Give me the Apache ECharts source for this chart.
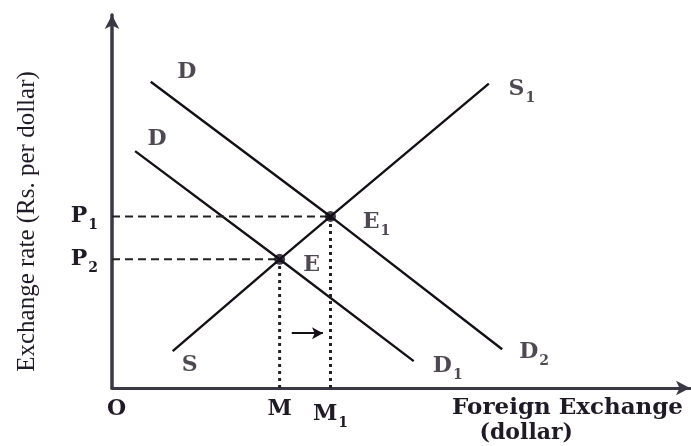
<!DOCTYPE html>
<html>
<head>
<meta charset="utf-8">
<title>Foreign exchange market: shift in demand</title>
<script src="https://cdn.jsdelivr.net/npm/echarts@6/dist/echarts.min.js"></script>
<style>
  html, body { margin: 0; padding: 0; background: #fff; }
  #chart { width: 691px; height: 446px; }
</style>
</head>
<body>
<div id="chart"></div>
<script>
// Curves in axis units (quantity 0–100, rate 0–100)
const supplyS = [[10.5, 9.9], [29, 34.5], [37.8, 46], [65.2, 81.6]];
const demandD1 = [[4.0, 63.5], [29, 34.5], [52.2, 7.2]];
const demandD2 = [[6.7, 82.1], [37.8, 46], [67.5, 10.4]];

// Equilibrium points E and E1
const equilibriumNames = ['E', 'E1'];
const equilibriumPoints = [[29, 34.5], [37.8, 46]];

// Tick positions and their labels
const rateTicks = [34.5, 46];
const rateTickLabels = ['P2', 'P1'];
const qtyTicks = [0, 29, 37.8];
const qtyTickLabels = ['O', 'M', 'M1'];

// Shift arrow between M and M1
const shiftArrow = [[31.1, 14.7], [36.5, 14.7]];

const SERIF = 'DejaVu Serif';
const TITLE_SERIF = 'Liberation Serif';
const INK = '#201a26';

// "M1" -> "{m|M}{s|1}"
function sub(txt) {
  const m = txt.match(/^([A-Za-z]+)(\d*)$/);
  return m[2] ? '{m|' + m[1] + '}{s|' + m[2] + '}' : '{m|' + m[1] + '}';
}
const richText = {
  m: { fontFamily: SERIF, fontSize: 22, fontWeight: 'bold', color: INK },
  o: { fontFamily: SERIF, fontSize: 22, fontWeight: 'bold', color: INK, padding: [0, 0, 0, 9] },
  s: { fontFamily: SERIF, fontSize: 14, fontWeight: 'bold', color: INK, padding: [18, 0, 0, 1] }
};

function curveLabel(point, text, dx, dy) {
  return {
    value: point,
    label: { show: true, formatter: sub(text), position: 'inside', offset: [dx, dy], rich: richText }
  };
}

const chart = echarts.init(document.getElementById('chart'), null, { renderer: 'canvas' });

const lineStyle = { color: '#151018', width: 2.4 };

chart.setOption({
  backgroundColor: '#ffffff',
  animation: false,
  grid: { left: 112, right: 1, top: 15, bottom: 56, containLabel: false },
  xAxis: {
    type: 'value', min: 0, max: 100,
    splitLine: { show: false },
    axisTick: { show: false },
    axisLine: { show: true, lineStyle: { color: '#3a3844', width: 3 }, symbol: ['none', 'arrow'], symbolSize: [11, 14] },
    axisLabel: {
      show: true, customValues: qtyTicks, margin: 10,
      // the origin label sits just right of the corner
      formatter: v => v === 0 ? '{o|' + qtyTickLabels[0] + '}' : sub(qtyTickLabels[qtyTicks.indexOf(v)]),
      rich: richText
    },
    name: '{a|Foreign Exchange}\n{b|(dollar)}',
    nameLocation: 'end',
    nameGap: -7,
    nameTextStyle: {
      align: 'right', verticalAlign: 'top', padding: [8, 0, 0, 0], lineHeight: 25,
      rich: {
        a: { fontFamily: SERIF, fontSize: 23, fontWeight: 'bold', color: INK, lineHeight: 25 },
        b: { fontFamily: SERIF, fontSize: 22, fontWeight: 'bold', color: INK, lineHeight: 25, padding: [0, 110, 0, 0] }
      }
    }
  },
  yAxis: {
    type: 'value', min: 0, max: 100,
    splitLine: { show: false },
    axisTick: { show: false },
    axisLine: { show: true, lineStyle: { color: '#3a3844', width: 3.5 }, symbol: ['none', 'arrow'], symbolSize: [11, 14] },
    axisLabel: {
      show: true, customValues: rateTicks, margin: 14,
      formatter: v => sub(rateTickLabels[rateTicks.indexOf(v)]),
      rich: richText
    },
    name: 'Exchange rate (Rs. per dollar)',
    nameLocation: 'middle',
    nameRotate: 90,
    nameGap: 72,
    nameTextStyle: { fontFamily: TITLE_SERIF, fontSize: 25, color: INK, padding: [0, 40, 0, 0] }
  },
  series: [
    { name: 'S', type: 'line', data: supplyS, symbol: 'none', lineStyle },
    { name: 'D1', type: 'line', data: demandD1, symbol: 'none', lineStyle },
    { name: 'D2', type: 'line', data: demandD2, symbol: 'none', lineStyle },
    // Dashed guides from the rate axis to each equilibrium
    { type: 'line', symbol: 'none', data: [[0, rateTicks[0]], equilibriumPoints[0]], lineStyle: { color: '#222', width: 2, type: [8, 5] } },
    { type: 'line', symbol: 'none', data: [[0, rateTicks[1]], equilibriumPoints[1]], lineStyle: { color: '#222', width: 2, type: [8, 5] } },
    // Dotted drops to the quantity axis
    { type: 'line', symbol: 'none', data: [[qtyTicks[1], 0], equilibriumPoints[0]], lineStyle: { color: '#222', width: 3, type: [3, 4] } },
    { type: 'line', symbol: 'none', data: [[qtyTicks[2], 0], equilibriumPoints[1]], lineStyle: { color: '#222', width: 3, type: [3, 4] } },
    // Equilibrium dots
    {
      type: 'scatter', symbol: 'circle', symbolSize: 11,
      itemStyle: { color: '#120c18' },
      data: equilibriumPoints,
      z: 5
    },
    // Curve and point names
    {
      type: 'scatter', symbolSize: 1, itemStyle: { color: 'transparent' }, silent: true, z: 6,
      data: [
        curveLabel(demandD2[0], 'D', 36, -9),
        curveLabel(demandD1[0], 'D', 22, -12),
        curveLabel(supplyS[0], 'S', 17, 14),
        curveLabel(supplyS[supplyS.length - 1], 'S1', 33, 6),
        curveLabel(demandD1[demandD1.length - 1], 'D1', 34, 5),
        curveLabel(demandD2[demandD2.length - 1], 'D2', 32, 3),
        curveLabel(equilibriumPoints[0], equilibriumNames[0], 32, 6),
        curveLabel(equilibriumPoints[1], equilibriumNames[1], 46, 6)
      ]
    },
    // Rightward shift arrow
    {
      type: 'line', data: [], symbol: 'none',
      markLine: {
        silent: true, symbol: ['none', 'arrow'], symbolSize: [9, 11],
        label: { show: false },
        lineStyle: { color: '#151018', width: 2, type: 'solid' },
        data: [[{ coord: shiftArrow[0] }, { coord: shiftArrow[1] }]]
      }
    }
  ]
});
</script>
</body>
</html>
